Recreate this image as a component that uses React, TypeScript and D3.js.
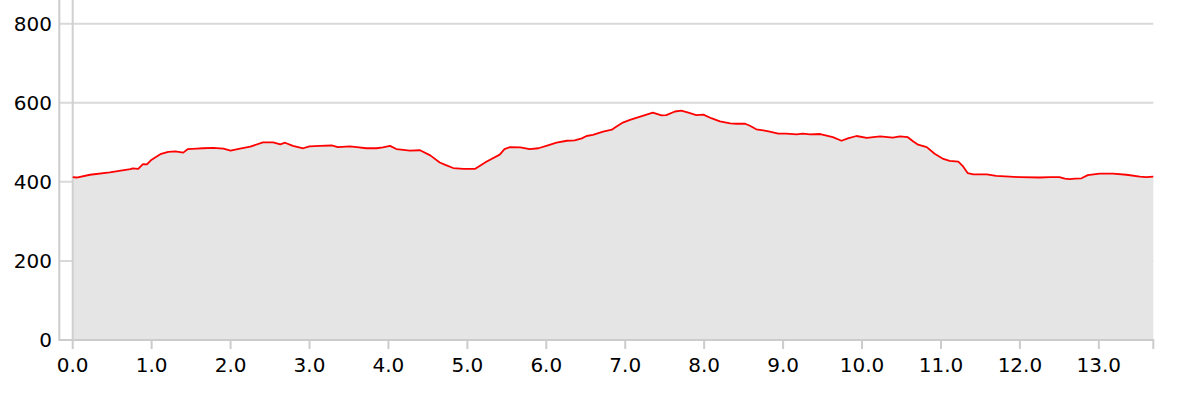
import React from "react";
import * as d3 from "d3";

const distanceKm = [
  0, 0.05, 0.22, 0.47, 0.73, 0.76, 0.83, 0.89, 0.94, 1.0, 1.11, 1.21, 1.3, 1.4, 1.46, 1.57, 1.65, 1.78, 1.91, 2.0, 2.12, 2.25,
  2.41, 2.54, 2.63, 2.69, 2.79, 2.92, 3.0, 3.13, 3.28, 3.36, 3.51, 3.6, 3.72, 3.85, 3.93, 4.02, 4.1, 4.19, 4.27, 4.4, 4.53, 4.65,
  4.72, 4.82, 4.95, 5.1, 5.24, 5.41, 5.47, 5.54, 5.67, 5.79, 5.9, 6.0, 6.13, 6.26, 6.36, 6.45, 6.51, 6.59, 6.72, 6.83, 6.89, 6.97, 7.06,
  7.19, 7.27, 7.35, 7.46, 7.52, 7.63, 7.71, 7.8, 7.9, 7.99, 8.09, 8.2, 8.33, 8.41, 8.52, 8.58, 8.66, 8.75, 8.83, 8.94, 9.04, 9.17, 9.25, 9.34, 9.47,
  9.63, 9.74, 9.82, 9.93, 10.06, 10.23, 10.39, 10.48, 10.58, 10.65, 10.71, 10.82, 10.92, 11.03, 11.11, 11.22, 11.28, 11.34, 11.41, 11.58, 11.7, 11.87,
  12.0, 12.25, 12.38, 12.5, 12.57, 12.63, 12.7, 12.78, 12.86, 13.01, 13.18, 13.35, 13.52, 13.6, 13.69,
];

const elevationM = [
  412, 411, 418, 424, 432, 434, 433, 445, 444, 456, 470, 476, 477, 474, 483, 484, 485, 486, 484, 479, 484, 489,
  500, 500, 495, 499, 491, 485, 490, 491, 492, 488, 490, 488, 485, 485, 487, 491, 483, 481, 479, 480, 467, 449,
  443, 435, 433, 433, 451, 469, 483, 488, 487, 483, 485, 491, 499, 504, 505, 510, 516, 519, 527, 532, 540, 550, 557,
  565, 570, 575, 568, 569, 578, 580, 575, 569, 570, 561, 553, 548, 547, 547, 542, 533, 530, 527, 522, 522, 520, 522, 520, 521,
  513, 504, 510, 516, 511, 515, 512, 515, 513, 502, 494, 488, 471, 458, 453, 451, 439, 422, 419, 419, 415, 413,
  412, 411, 412, 412, 408, 407, 408, 409, 417, 421, 421, 418, 413, 412, 413,
];

const xTicks = [0, 1, 2, 3, 4, 5, 6, 7, 8, 9, 10, 11, 12, 13];
const yTicks = [0, 200, 400, 600, 800];

const W = 1177;
const H = 399;

export default function App() {
  const x = d3.scaleLinear().domain([0, 13.69]).range([72.7, 1153.3]);
  const y = d3.scaleLinear().domain([0, 860]).range([340, 0]);
  const data = distanceKm.map((d, i) => ({ d, e: elevationM[i] }));
  const area = d3
    .area<{ d: number; e: number }>()
    .x((p) => x(p.d))
    .y0(y(0))
    .y1((p) => y(p.e));
  const line = d3
    .line<{ d: number; e: number }>()
    .x((p) => x(p.d))
    .y((p) => y(p.e));
  const axisX = 59.3;
  const xEnd = x(13.69);
  const font = "'DejaVu Sans', sans-serif";

  return (
    <svg
      width={W}
      height={H}
      style={{ position: "absolute", left: 0, top: 0, background: "#fff" }}
      fontFamily={font}
    >
      {yTicks.map((t) => (
        <line key={"g" + t} x1={axisX} x2={xEnd} y1={y(t)} y2={y(t)} stroke="#d9d9d9" strokeWidth={2} />
      ))}
      <path d={area(data) || ""} fill="#e5e5e5" />
      <line x1={x(0)} x2={x(0)} y1={0} y2={y(0)} stroke="#d0d0d0" strokeWidth={2} />
      <path d={line(data) || ""} fill="none" stroke="#ff0000" strokeWidth={1.8} strokeLinejoin="round" />
      <line x1={axisX} x2={axisX} y1={0} y2={y(0) + 1} stroke="#cccccc" strokeWidth={2} />
      <line x1={axisX} x2={xEnd + 1} y1={y(0)} y2={y(0)} stroke="#cccccc" strokeWidth={2} />
      {[...xTicks, 13.69].map((t) => (
        <line key={"t" + t} x1={x(t)} x2={x(t)} y1={y(0)} y2={y(0) + 9} stroke="#cccccc" strokeWidth={2} />
      ))}
      {xTicks.map((t) => (
        <text key={"xl" + t} x={x(t)} y={372} textAnchor="middle" fontSize={20} fill="#000">
          {t.toFixed(1)}
        </text>
      ))}
      {yTicks.map((t) => (
        <text key={"yl" + t} x={52} y={y(t)} dy="0.36em" textAnchor="end" fontSize={20} fill="#000">
          {t}
        </text>
      ))}
    </svg>
  );
}
